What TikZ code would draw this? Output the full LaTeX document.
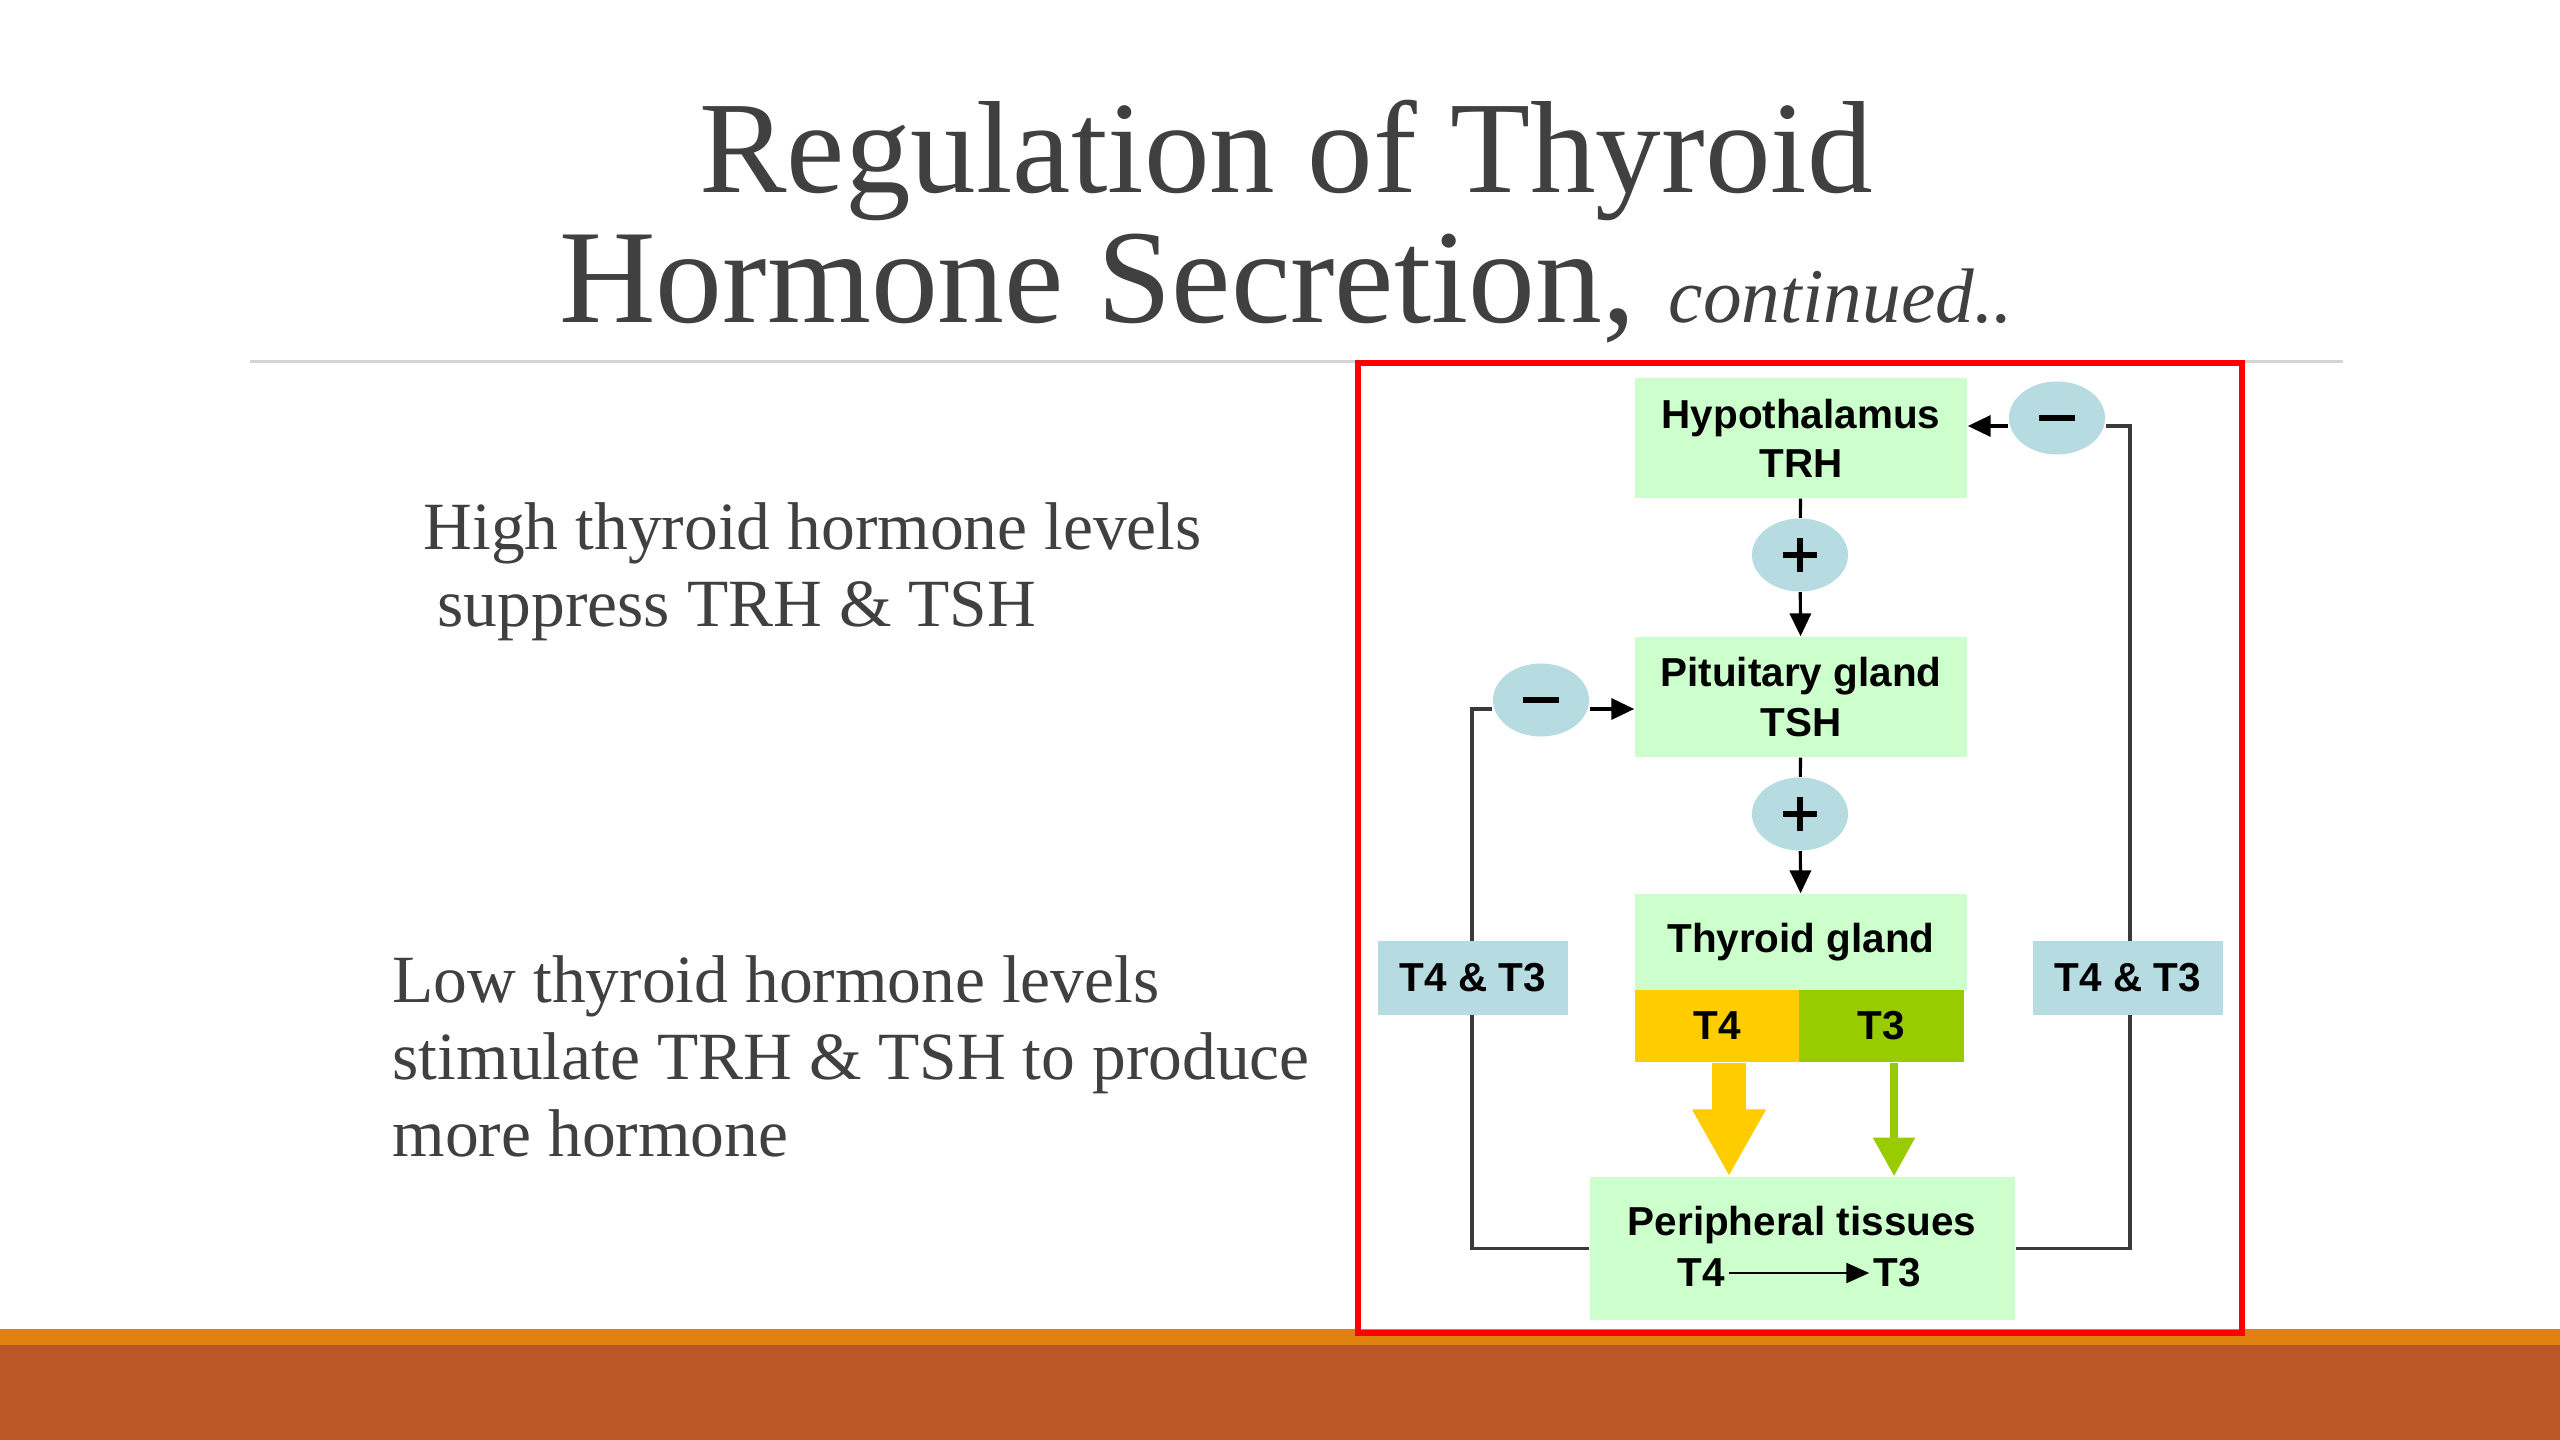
\documentclass[tikz,border=0pt]{standalone}
\usepackage{fontspec}
\setmainfont{Liberation Serif}
\newfontfamily\diagsans{Liberation Sans}
\usetikzlibrary{arrows.meta,shapes.geometric}
\definecolor{bandorange}{HTML}{E0820F}
\definecolor{bandrust}{HTML}{BA5729}
\definecolor{titlegray}{HTML}{404040}
\definecolor{rulegray}{HTML}{D4D4D4}
\definecolor{boxgreen}{HTML}{CCFFCC}
\definecolor{bubble}{HTML}{B6DCE1}
\definecolor{tyellow}{HTML}{FFCC00}
\definecolor{tgreen}{HTML}{99CC00}
\definecolor{fbgray}{HTML}{3A3A3A}
\newcommand\plusglyph{\makebox[9.7pt]{\rule[-4.85pt]{1.7pt}{9.7pt}}\hspace{-9.7pt}\makebox[9.7pt]{\rule[-0.85pt]{9.7pt}{1.7pt}}}
\newcommand\minusglyph{\rule[-0.9pt]{10.5pt}{1.8pt}}
\begin{document}
\begin{tikzpicture}[x=0.01cm,y=-0.01cm,
  organ/.style={fill=boxgreen, inner sep=0pt, align=center,
    font=\diagsans\bfseries\fontsize{11.5}{14}\selectfont},
  sign/.style={ellipse, fill=bubble, inner sep=0pt, minimum width=0.96cm, minimum height=0.73cm},
  hlabel/.style={fill=bubble, inner sep=0pt, minimum width=1.89cm, minimum height=0.74cm,
    font=\diagsans\bfseries\fontsize{11.5}{14}\selectfont},
  dtext/.style={inner sep=1pt, font=\diagsans\bfseries\fontsize{11.5}{14}\selectfont},
  link/.style={draw=black, line width=0.9pt},
  arr/.style={link, -{Triangle[length=6.5pt,width=6pt]}},
  fb/.style={draw=fbgray, line width=0.9pt},
  slide/.style={inner sep=0pt, text=titlegray},
  body/.style={slide, anchor=base west, font=\fontsize{19.2}{23}\selectfont}
]
\useasboundingbox (0,0) rectangle (2560,1440);
\fill[white] (0,0) rectangle (2560,1440);
\fill[bandorange] (0,1329) rectangle (2560,1345);
\fill[bandrust] (0,1345) rectangle (2560,1440);

% title
\node[slide, anchor=base, font=\fontsize{37.3}{44}\selectfont] (title1) at (1286,193) {Regulation of Thyroid};
\node[slide, anchor=base, font=\fontsize{38}{44}\selectfont] (title2) at (1286,323)
  {Hormone Secretion, {\itshape\fontsize{22}{26}\selectfont continued..}};
\draw[rulegray, line width=0.85pt] (250,362) -- (2343,362);

% body text
\node[body] (hi1) at (423,550) {High thyroid hormone levels};
\node[body] (hi2) at (437,627) {suppress TRH \& TSH};
\node[body] (lo1) at (392,1002) {Low thyroid hormone levels};
\node[body] (lo2) at (392,1079) {stimulate TRH \& TSH to produce};
\node[body] (lo3) at (392,1156) {more hormone};

% diagram boxes
\node[organ, minimum width=3.32cm, minimum height=1.2cm] (hyp) at (1801,438) {Hypothalamus\\TRH};
\node[organ, minimum width=3.32cm, minimum height=1.2cm] (pit) at (1801,697) {Pituitary gland\\TSH};
\node[organ, minimum width=3.32cm, minimum height=0.96cm] (thy) at (1801,942) {Thyroid gland};
\node[organ, fill=tyellow, minimum width=1.64cm, minimum height=0.72cm] (t4) at (1717,1026) {T4};
\node[organ, fill=tgreen, minimum width=1.65cm, minimum height=0.72cm] (t3) at (1881.5,1026) {T3};
\node[organ, minimum width=4.25cm, minimum height=1.43cm] (pt) at (1802.5,1248.5) {};
\node[dtext] (ptname) at (1802,1225) {Peripheral tissues};
\node[dtext] (pt4) at (1701,1273) {T4};
\node[dtext] (pt3) at (1897,1273) {T3};
\draw[line width=0.6pt, -{Triangle[length=6.5pt,width=5.7pt]}] (pt4) -- (pt3);

% signs
\node[sign] (p1) at (1800,555) {\plusglyph};
\node[sign] (p2) at (1800,814) {\plusglyph};
\node[sign] (mT) at (2057,418) {\minusglyph};
\node[sign] (mL) at (1541,700) {\minusglyph};

% main chain
\draw[link] (hyp) -- (p1);
\draw[arr] (p1) -- (pit);
\draw[link] (pit) -- (p2);
\draw[arr] (p2) -- (thy);

% hormone arrows
\coordinate (yx) at (1729,0);
\coordinate (gx) at (1894,0);
\draw[tyellow, line width=9.7pt, -{Triangle[length=19pt,width=19.6pt]}] (t4.south -| yx) -- (pt.north -| yx);
\draw[tgreen, line width=2.4pt, -{Triangle[length=11pt,width=11.4pt]}] (t3.south -| gx) -- (pt.north -| gx);

% feedback loops
\coordinate (cL) at (1472,709);
\coordinate (cR) at (2130,426);
\draw[fb] (pt.west) -| (cL) -- (cL -| mL.west);
\draw[arr] (cL -| mL.east) -- (cL -| pit.west);
\draw[fb] (pt.east) -| (cR) -- (cR -| mT.east);
\draw[arr] (cR -| mT.west) -- (cR -| hyp.east);

\node[hlabel] (lL) at (1473,978) {T4 \& T3};
\node[hlabel] (lR) at (2128,978) {T4 \& T3};

% frame
\draw[red, line width=1.7pt] (1358,363) rectangle (2242,1333);
\end{tikzpicture}
\end{document}
